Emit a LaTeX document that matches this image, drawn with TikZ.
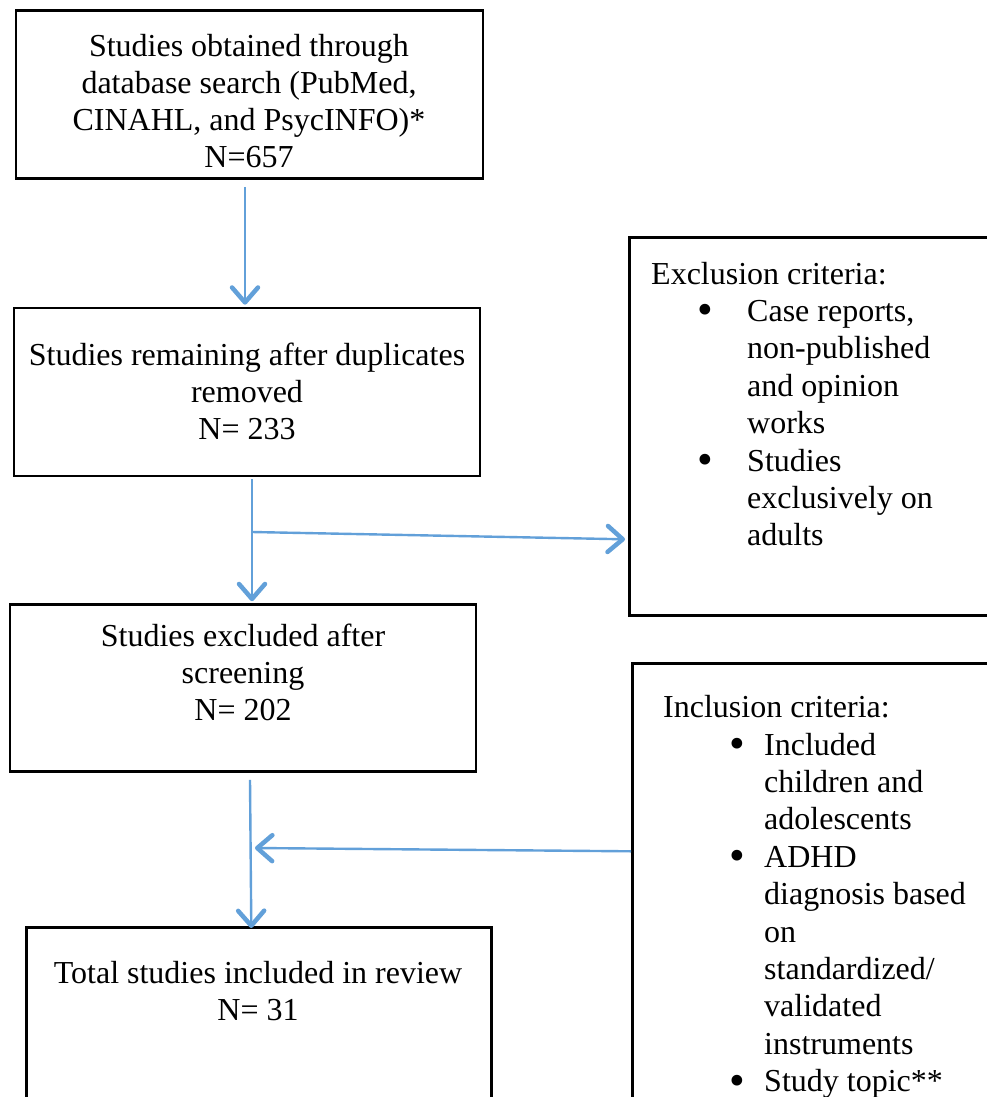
\documentclass[tikz,border=0pt]{standalone}
\usepackage{fontspec}
\setmainfont{Liberation Serif}
\usetikzlibrary{arrows.meta}
\definecolor{arrblue}{RGB}{98,160,217}
\tikzset{
  box/.style={draw=black, line width=2.6pt, inner sep=0pt},
  txt/.style={inner sep=0pt, align=center, font=\fontsize{32}{37}\selectfont},
  ltxt/.style={inner sep=0pt, align=left, font=\fontsize{32}{37.4}\selectfont},
  arr/.style={draw=arrblue, line width=2.4pt, -{Straight Barb[length=15pt, width=26pt, line width=4.5pt, round]}},
  lin/.style={draw=arrblue, line width=2.4pt}
}
\newcommand{\bul}[2]{\hspace*{#1}\makebox[#2][l]{\raisebox{-3.5pt}{\scalebox{1.4}{\textbullet}}}}
\begin{document}
\begin{tikzpicture}[x=1pt,y=-1pt]
\useasboundingbox (0,0) rectangle (987,1097);
% boxes
\node[box, minimum width=467pt, minimum height=168pt] (b1) at (249.5,94.5) {};
\node[box, minimum width=466pt, minimum height=168pt] (b2) at (247,392) {};
\node[box, minimum width=466pt, minimum height=167pt] (b3) at (243,688) {};
\node[box, minimum width=465pt, minimum height=200pt, anchor=north west] (b4) at (25,926) {};
\node[box, minimum width=362pt, minimum height=378pt, anchor=north west] (ex) at (628,236) {};
\node[box, minimum width=360pt, minimum height=460pt, anchor=north west] (in) at (631,662) {};
% texts
\node[txt] (t1) at (249,101) {Studies obtained through\\database search (PubMed,\\CINAHL, and PsycINFO)*\\N=657};
\node[txt] (t2) at (247,391) {Studies remaining after duplicates\\removed\\N= 233};
\node[txt] (t3) at (243,672) {Studies excluded after\\screening\\N= 202};
\node[txt] (t4) at (258,991) {Total studies included in review\\N= 31};
\node[ltxt, anchor=west] (te) at (651,404) {Exclusion criteria:\\
\bul{46pt}{50pt}Case reports,\\
\hspace*{96pt}non-published\\
\hspace*{96pt}and opinion\\
\hspace*{96pt}works\\
\bul{46pt}{50pt}Studies\\
\hspace*{96pt}exclusively on\\
\hspace*{96pt}adults};
\node[ltxt, anchor=west] (ti) at (663,897) {Inclusion criteria:\\
\bul{66pt}{35pt}Included\\
\hspace*{101pt}children and\\
\hspace*{101pt}adolescents\\
\bul{66pt}{35pt}ADHD\\
\hspace*{101pt}diagnosis based\\
\hspace*{101pt}on\\
\hspace*{101pt}standardized/\\
\hspace*{101pt}validated\\
\hspace*{101pt}instruments\\
\bul{66pt}{35pt}Study topic**};
% connectors
\coordinate (j1) at (252,532);
\coordinate (j2) at (250,848);
\draw[arr] ([xshift=-4.5pt,yshift=-7pt]b1.south) -- ([xshift=-2pt,yshift=2pt]b2.north);
\draw[lin] ([xshift=5pt,yshift=-2pt]b2.south) -- (j1);
\draw[arr] (j1) -- ([xshift=9pt,yshift=2pt]b3.north);
\draw[arr] (j1) -- ([xshift=-3pt,yshift=-113pt]ex.west);
\draw[arr] ([xshift=7pt,yshift=-7pt]b3.south) -- ([xshift=-7.5pt,yshift=-2pt]b4.north);
\draw[arr] ([yshift=42pt]in.west) -- ([xshift=5pt]j2);
\end{tikzpicture}
\end{document}
